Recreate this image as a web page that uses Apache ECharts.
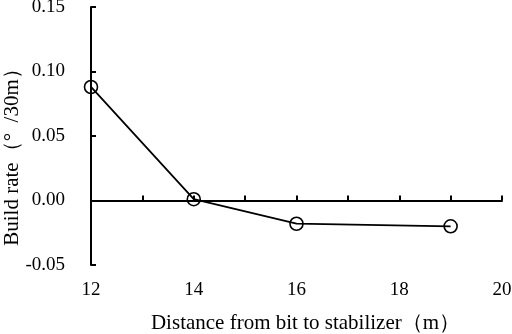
<!DOCTYPE html>
<html>
<head>
<meta charset="utf-8">
<script src="https://cdn.jsdelivr.net/npm/echarts@6/dist/echarts.min.js"></script>
<style>
  html, body { margin: 0; padding: 0; background: #fff; }
  #chart { width: 512px; height: 334px; }
</style>
</head>
<body>
<div id="chart"></div>
<script>
// distance from bit to stabilizer (m)
const distance = [12, 14, 16, 19];
// build rate (°/30m)
const buildRate = [0.088, 0.001, -0.018, -0.020];
const xTickLabels = [12, 14, 16, 18, 20];
const yTickLabels = [-0.05, 0.00, 0.05, 0.10, 0.15];

const font = "Liberation Serif";

let data = [];
for (let i = 0; i < distance.length; i++) {
  data.push([distance[i], buildRate[i]]);
}

const chart = echarts.init(document.getElementById("chart"));

chart.setOption({
  animation: false,
  grid: { left: 91, right: 10, top: 7, bottom: 69, outerBoundsMode: "none", containLabel: false },
  xAxis: [
    {
      // line through zero, ticks only
      type: "value",
      min: 12,
      max: 20,
      interval: 1,
      axisLine: { onZero: true, lineStyle: { color: "#000", width: 2 } },
      axisTick: { inside: true, length: 5, lineStyle: { color: "#000", width: 2 } },
      axisLabel: { show: false },
      splitLine: { show: false }
    },
    {
      // labels along the bottom
      type: "value",
      position: "bottom",
      min: 12,
      max: 20,
      interval: 2,
      axisLine: { show: false, onZero: false },
      axisTick: { show: false },
      splitLine: { show: false },
      axisLabel: {
        margin: 16,
        color: "#000",
        fontFamily: font,
        fontSize: 19,
        formatter: v => (xTickLabels.indexOf(v) >= 0 ? String(v) : "")
      },
      name: "Distance from bit to stabilizer（m）",
      nameLocation: "middle",
      nameGap: 48,
      nameMoveOverlap: false,
      nameTextStyle: { color: "#000", fontFamily: font, fontSize: 21, padding: [0, 0, 0, 18] }
    }
  ],
  yAxis: {
    type: "value",
    min: -0.05,
    max: 0.15,
    interval: 0.05,
    axisLine: { show: true, lineStyle: { color: "#000", width: 2 } },
    axisTick: { show: true, inside: true, length: 5, lineStyle: { color: "#000", width: 2 } },
    splitLine: { show: false },
    axisLabel: {
      margin: 26,
      color: "#000",
      fontFamily: font,
      fontSize: 19,
      formatter: v => {
        const t = yTickLabels.find(l => Math.abs(l - v) < 1e-9);
        return t === undefined ? "" : t.toFixed(2);
      }
    },
    name: "Build rate（°  /30m）",
    nameLocation: "middle",
    nameGap: 68,
    nameMoveOverlap: false,
    nameTextStyle: { color: "#000", fontFamily: font, fontSize: 21, padding: [0, 32, 0, 0] }
  },
  series: [
    {
      type: "line",
      xAxisIndex: 0,
      data: data,
      symbol: "circle",
      symbolSize: 13,
      lineStyle: { color: "#000", width: 1.8 },
      itemStyle: { color: "rgba(0,0,0,0)", borderColor: "#000", borderWidth: 1.6 }
    }
  ]
});
</script>
</body>
</html>
